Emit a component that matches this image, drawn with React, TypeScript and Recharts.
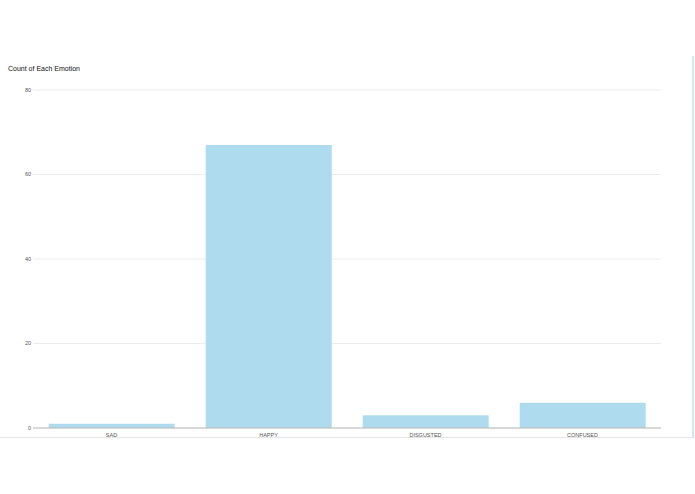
import React from "react";
import { BarChart, Bar, XAxis, YAxis, CartesianGrid } from "recharts";

const emotions = ["SAD", "HAPPY", "DISGUSTED", "CONFUSED"];
const counts = [1, 67, 3, 6];
const yTicks = [0, 20, 40, 60, 80];

const data = emotions.map((name, i) => ({ name, count: counts[i] }));

const App = () => {
  return (
    <div style={{ position: "absolute", left: 0, top: 0, width: 695, height: 494, fontFamily: "Liberation Sans, Arial, sans-serif" }}>
      {/* panel borders */}
      <div
        style={{
          position: "absolute",
          left: 0,
          top: 56,
          width: 692,
          height: 381,
          borderRight: "2px solid #cfe8f2",
          borderBottom: "1px solid #e6e6e6",
        }}
      />
      <div style={{ position: "absolute", left: 8, top: 65, fontSize: 7, color: "#111" }}>
        Count of Each Emotion
      </div>
      <div style={{ position: "absolute", left: 0, top: 0 }}>
        <BarChart
          width={694}
          height={494}
          data={data}
          margin={{ top: 90, right: 33, bottom: 36, left: 0 }}
          barCategoryGap="10%"
        >
          <CartesianGrid vertical={false} stroke="#ececec" />
          <XAxis
            dataKey="name"
            height={30}
            tickLine={false}
            tickSize={0}
            tickMargin={5}
            axisLine={{ stroke: "#bbb" }}
            tick={{ fontSize: 5.5, fill: "#555" }}
          />
          <YAxis
            width={33}
            domain={[0, 80]}
            ticks={yTicks}
            axisLine={false}
            tickLine={false}
            tickSize={0}
            tickMargin={2}
            tick={{ fontSize: 5.5, fill: "#555" }}
          />
          <Bar dataKey="count" fill="#aedcee" isAnimationActive={false} />
        </BarChart>
      </div>
    </div>
  );
};

export default App;
